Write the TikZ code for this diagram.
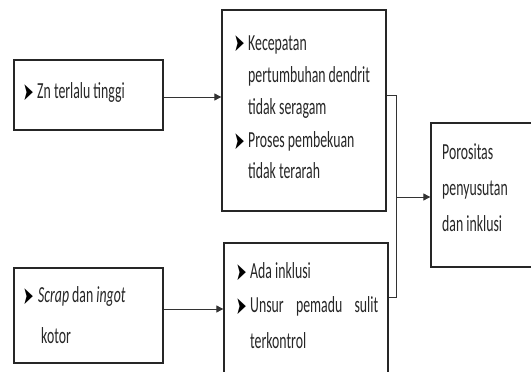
\documentclass[tikz,border=0pt]{standalone}
\usepackage{fontspec}
\setmainfont[FakeStretch=0.6]{Carlito}
\newfontfamily\dvfont[FakeStretch=0.5]{DejaVu Sans}
\usetikzlibrary{arrows.meta}
\tikzset{
  box/.style={draw=black!85, line width=1.3pt},
  conn/.style={draw=black!80, line width=0.9pt},
  arr/.style={conn, -{Triangle[length=7pt,width=7pt]}},
  txt/.style={anchor=base west, inner sep=0pt, text=black!85, font=\fontsize{23}{23}\selectfont},
  bul/.style={anchor=base west, inner sep=0pt, font=\dvfont\fontsize{25}{25}\selectfont},
}
\begin{document}
\begin{tikzpicture}[x=1pt,y=-1pt]
\useasboundingbox (0,0) rectangle (531,372);
% boxes
\node[box, minimum width=149pt, minimum height=70pt, inner sep=0pt] (b1) at (88.5,95) {};
\node[box, minimum width=164pt, minimum height=201pt, inner sep=0pt] (b2) at (304,110.5) {};
\node[box, minimum width=149pt, minimum height=95pt, inner sep=0pt] (b3) at (88.5,315.5) {};
\node[box, minimum width=164pt, minimum height=140pt, inner sep=0pt] (b4) at (306,313) {};
\node[box, minimum width=120pt, minimum height=144pt, inner sep=0pt] (b5) at (491,195) {};
% box 1 text
\node[bul] (b1u) at (23,100) {➤};
\node[txt] (b1t) at (37,98) {Zn terlalu tinggi};
% box 2 text
\node[bul] (b2u1) at (234,52) {➤};
\node[txt] (b2t1) at (248,50) {Kecepatan};
\node[txt] (b2t2) at (248,82) {pertumbuhan dendrit};
\node[txt] (b2t3) at (248,114) {tidak seragam};
\node[bul] (b2u2) at (234,149) {➤};
\node[txt] (b2t4) at (248,147) {Proses pembekuan};
\node[txt] (b2t5) at (248,178) {tidak terarah};
% box 3 text
\node[bul] (b3u) at (23,304) {➤};
\node[txt] (b3t1) at (38,302) {\textit{Scrap} dan \textit{ingot}};
\node[txt] (b3t2) at (41,343) {kotor};
% box 4 text
\node[bul] (b4u1) at (236,280) {➤};
\node[txt] (b4t1) at (250,278) {Ada inklusi};
\node[bul] (b4u2) at (236,314) {➤};
\node[txt] (b4t2) at (250,312) {\makebox[128pt][s]{Unsur pemadu sulit}};
\node[txt] (b4t3) at (250,348) {terkontrol};
% box 5 text
\node[txt] (b5t1) at (442,159) {Porositas};
\node[txt] (b5t2) at (442,195) {penyusutan};
\node[txt] (b5t3) at (442,231) {dan inklusi};
% connectors
\coordinate (j1) at (396,95);
\coordinate (j2) at (396,297);
\coordinate (j3) at (396,197);
\draw[arr] (b1.east |- 0,97) -- (b2.west |- 0,97);
\draw[conn] (b2.east |- j1) -- (j1) -- (j2) -- (b4.east |- j2);
\draw[arr] (j3) -- (b5.west |- j3);
\draw[arr] (b3.east |- 0,309) -- (b4.west |- 0,309);
\end{tikzpicture}
\end{document}
